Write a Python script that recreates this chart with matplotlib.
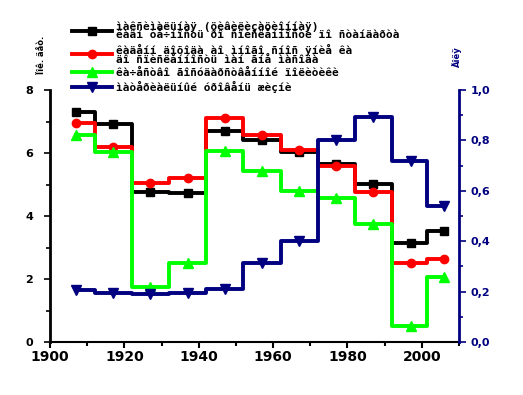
import matplotlib.pyplot as plt
from matplotlib.ticker import MultipleLocator, FuncFormatter

years = [1907, 1917, 1927, 1937, 1947, 1957, 1967, 1977, 1987, 1997, 2006]

black = [7.31, 6.93, 4.77, 4.73, 6.70, 6.40, 6.04, 5.65, 5.02, 3.15, 3.51]
red = [6.94, 6.20, 5.06, 5.20, 7.10, 6.56, 6.10, 5.59, 4.75, 2.50, 2.62]
green = [6.57, 6.02, 1.74, 2.52, 6.05, 5.44, 4.80, 4.58, 3.75, 0.51, 2.05]
blue = [0.206, 0.196, 0.190, 0.196, 0.209, 0.315, 0.400, 0.800, 0.894, 0.718, 0.540]

labels = [
    "ìàêñèìàëüíàÿ (öèâèëèçàöèîííàÿ)\nêàäí òå÷íîñòü ðî ñïèñëåííîñòè ïî ñòàíäàðòà",
    "êàäåíí äîõîäà àî ìíîãî ñíîñ ÿíèå êà\näî ñïèñëåííîñòü ìàí ãíå ìàñîäà",
    "êà÷åñòâî ãîñóäàðñòâåííîé ïîëèòèêè",
    "ìàòåðèàëüíûé óðîâåíü æèçíè",
]
left_title = "Ïîê. äåò."
right_title = "Äîëÿ"

navy = "#000080"

fig = plt.figure(figsize=(5.23, 3.95), dpi=100)
ax = fig.add_axes([50 / 523, 1 - 342 / 395, 409 / 523, 252 / 395])
ax2 = ax.twinx()

h1, = ax.step(years, black, where="mid", color="black", lw=2.8, marker="s", ms=6)
h2, = ax.step(years, red, where="mid", color="red", lw=2.8, marker="o", ms=6)
h3, = ax.step(years, green, where="mid", color="#00ff00", lw=2.8, marker="^", ms=7)
h4, = ax2.step(years, blue, where="mid", color=navy, lw=2.8, marker="v", ms=7)

ax.set_xlim(1900, 2010)
ax.set_ylim(0, 8)
ax2.set_ylim(0, 1.0)

ax.xaxis.set_major_locator(MultipleLocator(20))
ax.xaxis.set_minor_locator(MultipleLocator(10))
ax.yaxis.set_major_locator(MultipleLocator(2))
ax.yaxis.set_minor_locator(MultipleLocator(1))
ax2.yaxis.set_major_locator(MultipleLocator(0.2))
ax2.yaxis.set_minor_locator(MultipleLocator(0.1))
ax2.yaxis.set_major_formatter(FuncFormatter(lambda v, p: f"{v:.1f}".replace(".", ",")))

for a in (ax, ax2):
    a.spines["top"].set_visible(False)
ax.spines["right"].set_visible(False)
ax.spines["left"].set_linewidth(2)
ax.spines["bottom"].set_linewidth(1.5)
ax2.spines["left"].set_visible(False)
ax2.spines["bottom"].set_visible(False)
ax2.spines["right"].set_color(navy)
ax2.spines["right"].set_linewidth(2)

ax.tick_params(axis="x", which="both", direction="out", width=1.5, labelsize=10, pad=2)
ax.tick_params(axis="x", which="major", length=4)
ax.tick_params(axis="x", which="minor", length=3)
ax.tick_params(axis="y", which="both", direction="out", width=1.2, labelsize=8, pad=8)
ax.tick_params(axis="y", which="major", length=4)
ax.tick_params(axis="y", which="minor", length=3)
ax2.tick_params(axis="y", which="both", colors=navy, width=1.2, labelsize=8)
ax2.tick_params(axis="y", which="major", length=5)
ax2.tick_params(axis="y", which="minor", length=3)
for lab in ax.get_xticklabels() + ax.get_yticklabels() + ax2.get_yticklabels():
    lab.set_fontweight("bold")

fig.text(41 / 523, 1 - 55 / 395, left_title, rotation=90, ha="center", va="center",
         fontsize=6, fontweight="bold")
fig.text(457 / 523, 1 - 58 / 395, right_title, rotation=90, ha="center", va="center",
         fontsize=6, fontweight="bold", color=navy)

leg = fig.legend([h1, h2, h3, h4], labels, loc="upper left",
                 bbox_to_anchor=(62 / 523, 1 - 11 / 395),
                 frameon=False, handlelength=3.6, handletextpad=0.4, labelspacing=0.3,
                 prop={"family": "DejaVu Sans Mono", "size": 8, "weight": "bold"})
for t in leg.get_texts():
    t.set_linespacing(0.85)

fig.savefig("out.png", dpi=100)
